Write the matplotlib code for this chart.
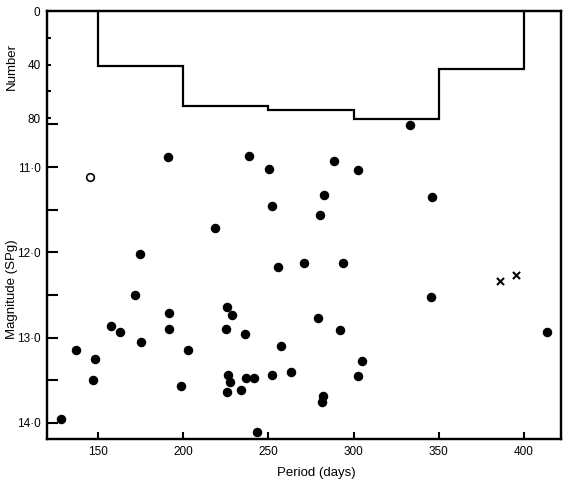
import matplotlib.pyplot as plt
from matplotlib.ticker import FixedLocator

# =========================
# Data
# =========================

# histogram of periods (top panel)
bin_edges = [150, 200, 250, 300, 350, 400]
bin_counts = [41, 71, 74, 80.5, 43.5]

# filled circles: period (days) and magnitude (SPg)
period = [
    191.3, 174.9, 172.0, 191.9, 157.9, 163.2, 191.9, 175.5, 137.4, 148.5,
    147.4, 128.6, 198.9, 203.0, 238.8, 250.5, 288.6, 302.7, 282.8, 252.3,
    280.4, 218.9, 255.8, 271.0, 293.9, 225.9, 228.8, 279.3, 225.3, 236.5,
    292.1, 257.6, 305.0, 226.5, 227.7, 237.0, 241.7, 252.3, 263.4, 302.7,
    225.9, 234.1, 282.2, 281.6, 243.5, 333.2, 346.1, 345.5, 413.5,
]
magnitude = [
    10.88, 12.02, 12.50, 12.71, 12.86, 12.94, 12.90, 13.05, 13.15, 13.25,
    13.50, 13.96, 13.57, 13.15, 10.87, 11.02, 10.93, 11.04, 11.33, 11.46,
    11.56, 11.72, 12.17, 12.12, 12.13, 12.64, 12.74, 12.77, 12.90, 12.96,
    12.91, 13.10, 13.27, 13.44, 13.52, 13.47, 13.47, 13.44, 13.40, 13.45,
    13.64, 13.61, 13.68, 13.76, 14.11, 10.51, 11.35, 12.53, 12.93,
]

# open circle
open_period = [145.6]
open_magnitude = [11.12]

# crosses
cross_period = [385.9, 395.3]
cross_magnitude = [12.34, 12.27]

mag_ticks = [11, 12, 13, 14]
mag_labels = ["11·0", "12·0", "13·0", "14·0"]
num_ticks = [0, 40, 80]
x_ticks = [150, 200, 250, 300, 350, 400]

# =========================
# Plot
# =========================

plt.rcParams["font.family"] = ["Liberation Sans", "DejaVu Sans"]

fig = plt.figure(figsize=(5.7, 4.84), dpi=100)
ax = fig.add_axes([0.0833, 0.093, 0.9007, 0.8837])

ax.scatter(period, magnitude, s=34, color="black", zorder=3)
ax.scatter(open_period, open_magnitude, s=30, facecolor="white",
           edgecolor="black", linewidth=1.2, zorder=3)
ax.scatter(cross_period, cross_magnitude, s=26, marker="x",
           color="black", linewidth=1.5, zorder=3)

ax.set_xlim(120.4, 421.7)
ax.set_ylim(14.19, 9.172)

ax.set_xticks(x_ticks)
ax.set_yticks(mag_ticks)
ax.set_yticklabels(mag_labels)
ax.yaxis.set_minor_locator(FixedLocator([10.5, 11.5, 12.5, 13.5]))

ax.tick_params(axis="x", direction="in", length=5, width=1.5,
               labelsize=8.5, pad=5)
ax.tick_params(axis="y", which="both", direction="in", length=8,
               width=1.5, labelsize=8.5, pad=5)

for side in ax.spines:
    ax.spines[side].set_linewidth(1.6)

ax.set_xlabel("Period (days)", fontsize=9.5)
ax.xaxis.set_label_coords(0.523, -0.066)
ax.set_ylabel("Magnitude (SPg)", fontsize=9.5)
ax.yaxis.set_label_coords(-0.058, 0.35)

# histogram on a twin axis, number scale on the left
ax2 = ax.twinx()
ax2.stairs(bin_counts, bin_edges, baseline=0, color="black", linewidth=1.6)
ax2.set_ylim(320.6, 0)
ax2.yaxis.tick_left()
ax2.yaxis.set_label_position("left")
ax2.set_yticks(num_ticks)
ax2.yaxis.set_minor_locator(FixedLocator([20, 60]))
ax2.tick_params(axis="y", which="both", direction="in", length=3,
                width=1.5, labelsize=8.5, pad=5)
ax2.set_ylabel("Number", fontsize=9.5)
ax2.yaxis.set_label_coords(-0.058, 0.87)
for side in ax2.spines:
    ax2.spines[side].set_linewidth(1.6)

# =========================
# Save
# =========================

fig.savefig("out.png", dpi=100)
